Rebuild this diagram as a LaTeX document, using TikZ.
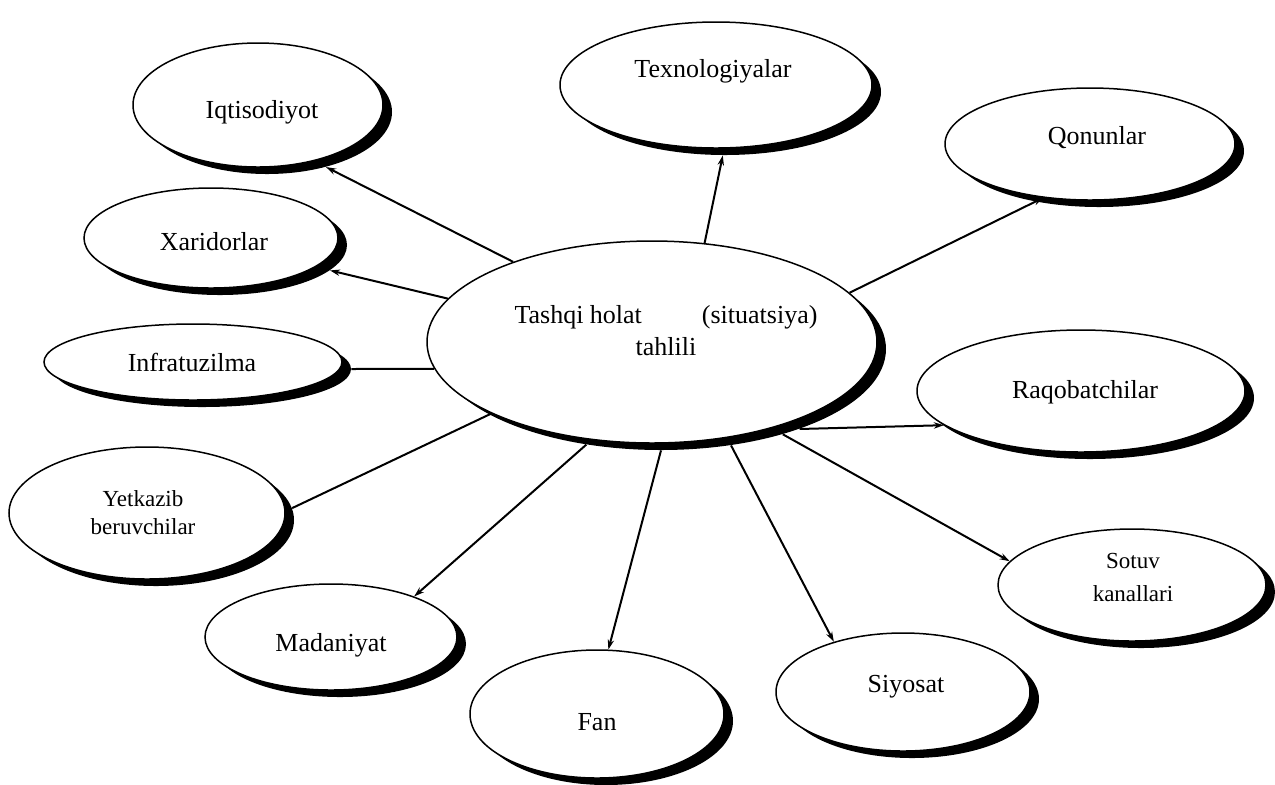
\documentclass[tikz,border=0pt]{standalone}
\usepackage{fontspec}
\setmainfont{Liberation Serif}
\usetikzlibrary{arrows.meta,shapes.geometric}

% \bubble{name}{x}{y}{rx}{ry}: white ellipse with a black drop shadow
\newcommand\bubble[5]{%
  \node[shade, minimum width=#4pt, minimum height=#5pt] (#1-s) at (#2+9,#3+7) {};
  \node[ell,   minimum width=#4pt, minimum height=#5pt] (#1)   at (#2,#3) {};
}

\begin{document}
\begin{tikzpicture}[x=0.5pt,y=-0.5pt,
  ell/.style={ellipse, draw=black, line width=0.75pt, fill=white, inner sep=0pt},
  shade/.style={ellipse, fill=black, draw=none, inner sep=0pt},
  lbl/.style={font=\fontsize{13}{16}\selectfont, align=center, inner sep=0pt},
  small/.style={font=\fontsize{11.5}{14}\selectfont, align=center, inner sep=0pt},
  link/.style={line width=1pt},
  arr/.style={line width=1pt, -{Stealth[length=5pt,width=3.2pt]}}]

\useasboundingbox (0,0) rectangle (1275,784);

% ellipses
\bubble{c}{652}{342}{225}{101}
\bubble{iqt}{258}{105}{125}{62}
\bubble{tex}{716}{85}{156}{63}
\bubble{qon}{1090}{144}{145}{56}
\bubble{xar}{211}{238}{127}{50}
\bubble{inf}{193}{362}{149}{38}
\bubble{raq}{1081}{391}{164}{61}
\bubble{yet}{147}{513}{138}{66}
\bubble{sot}{1132}{585}{134}{56}
\bubble{mad}{331}{637}{126}{53}
\bubble{fan}{597}{714}{127}{64}
\bubble{siy}{903}{692}{127}{59}

% texts
\node[lbl] (tc) at (666,331) {Tashqi holat\hspace{30pt}(situatsiya)\\tahlili};
\node[lbl] (tiqt) at (262,112) {Iqtisodiyot};
\node[lbl] (ttex) at (713,71) {Texnologiyalar};
\node[lbl] (tqon) at (1097,138) {Qonunlar};
\node[lbl] (txar) at (214,242) {Xaridorlar};
\node[lbl] (tinf) at (192,362) {Infratuzilma};
\node[lbl] (traq) at (1085,392) {Raqobatchilar};
\node[small] (tyet) at (143,513) {Yetkazib\\beruvchilar};
\node[small, font=\fontsize{11.5}{16.5}\selectfont] (tsot) at (1133,577) {Sotuv\\kanallari};
\node[lbl] (tmad) at (331,645) {Madaniyat};
\node[lbl] (tfan) at (597,722) {Fan};
\node[lbl] (tsiy) at (906,687) {Siyosat};

% connectors
\draw[arr]  (c.150)    -- (iqt-s.-43);
\draw[arr]  (c.168)    -- (xar-s.-13);
\draw[link] (c.187)    -- (inf-s.0);
\draw[link] (c.204)    -- (yet-s.5);
\draw[arr]  (c-s.232)  -- (mad.26);
\draw[arr]  (c-s.270)  -- (fan.80);
\draw[arr]  (c-s.306)  -- (siy.144);
\draw[arr]  (c-s.-35.5) -- (sot.169);
\draw[arr]  (c-s.-30)  -- (raq.194);
\draw[arr]  (c.14)     -- (qon.229);
\draw[arr]  (c.62.5)   -- (tex-s.268);

\end{tikzpicture}
\end{document}
